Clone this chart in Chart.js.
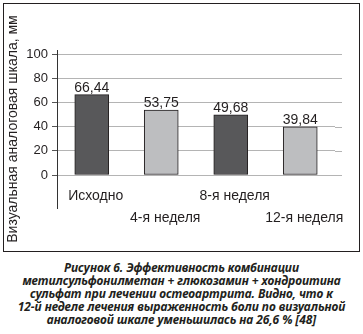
<!DOCTYPE html>
<html lang="ru">
  <head>
    <meta charset="utf-8" />
    <title>Рисунок 6</title>
    <style>
      body {
        margin: 0;
        width: 363px;
        height: 334px;
        background: #fff;
        position: relative;
        overflow: hidden;
      }
      .chart-box {
        position: absolute;
        left: 3px;
        top: 3px;
        width: 355px;
        height: 247px;
        border: 1px solid #231f20;
      }
      .caption {
        position: absolute;
        left: 0;
        top: 261px;
        width: 363px;
        text-align: center;
        font-family: "Noto Sans", sans-serif;
        font-weight: bold;
        font-style: italic;
        font-size: 12px;
        line-height: 13px;
        letter-spacing: -0.08px;
        color: #231f20;
      }
    </style>
  </head>
  <body>
    <div class="chart-box">
      <canvas id="vas-chart" width="355" height="247"></canvas>
    </div>
    <div class="caption">
      Рисунок 6. Эффективность комбинации<br />
      метилсульфонилметан + глюкозамин + хондроитина<br />
      сульфат при лечении остеоартрита. Видно, что к<br />
      12-й неделе лечения выраженность боли по визуальной<br />
      аналоговой шкале уменьшилась на 26,6 % [48]
    </div>

    <script src="https://cdn.jsdelivr.net/npm/chart.js@4/dist/chart.umd.min.js"></script>
    <script>
      // points of the study
      const periods = [["Исходно", ""], ["", "4-я неделя"], ["8-я неделя", ""], ["", "12-я неделя"]];
      // mean VAS pain score, mm
      const vasScores = [66.44, 53.75, 49.68, 39.84];
      const barColors = ["#58585a", "#bdbec0", "#58585a", "#bdbec0"];
      const yTicks = [0, 20, 40, 60, 80, 100];
      const yTitle = "Визуальная аналоговая шкала, мм";

      const textColor = "#231f20";
      const font = "Liberation Sans, Arial, sans-serif";

      // value above every bar, axis line and rotated title
      const extras = {
        id: "extras",
        afterDatasetsDraw(chart) {
          const ctx = chart.ctx;
          const y = chart.scales.y;
          const area = chart.chartArea;
          ctx.save();

          // gridlines run a bit past the last category
          ctx.strokeStyle = "#b4b4b4";
          ctx.lineWidth = 1;
          yTicks.forEach((t) => {
            const py = Math.round(y.getPixelForValue(t)) + 0.5;
            ctx.beginPath();
            ctx.moveTo(area.right, py);
            ctx.lineTo(area.right + 7, py);
            ctx.stroke();
          });

          // vertical axis
          ctx.strokeStyle = "#333";
          ctx.beginPath();
          ctx.moveTo(area.left + 0.5, area.top - 4);
          ctx.lineTo(area.left + 0.5, area.bottom + 34);
          ctx.stroke();

          // value labels
          ctx.fillStyle = textColor;
          ctx.font = "14px " + font;
          ctx.textAlign = "center";
          ctx.textBaseline = "alphabetic";
          chart.getDatasetMeta(0).data.forEach((bar, i) => {
            ctx.fillText(vasScores[i].toFixed(2).replace(".", ","), bar.x, bar.y - 3);
          });

          // axis title
          ctx.translate(9, 125);
          ctx.rotate(-Math.PI / 2);
          ctx.textBaseline = "middle";
          ctx.fillText(yTitle, 0, 0);
          ctx.restore();
        },
      };

      new Chart(document.getElementById("vas-chart"), {
        type: "bar",
        data: {
          labels: periods,
          datasets: [
            {
              data: vasScores,
              backgroundColor: barColors,
              borderColor: "#231f20",
              borderWidth: 1,
              borderSkipped: false,
              barThickness: 34,
            },
          ],
        },
        options: {
          responsive: false,
          animation: false,
          devicePixelRatio: 1,
          layout: { padding: { left: 0, top: 50, right: 24, bottom: 0 } },
          plugins: {
            legend: { display: false },
            tooltip: { enabled: false },
          },
          scales: {
            x: {
              grid: { display: false },
              border: { display: false },
              ticks: {
                color: textColor,
                font: { family: font, size: 14, lineHeight: 22 / 14 },
                padding: 2,
                labelOffset: 4,
                maxRotation: 0,
                autoSkip: false,
              },
              afterFit(scale) {
                scale.height = 76;
              },
            },
            y: {
              min: 0,
              max: 100,
              afterBuildTicks(scale) {
                scale.ticks = yTicks.map((v) => ({ value: v }));
              },
              grid: {
                color: "#b4b4b4",
                tickColor: "#555",
                tickLength: 5,
                lineWidth: 1,
              },
              border: { display: false },
              ticks: {
                color: textColor,
                font: { family: font, size: 13 },
                padding: 4,
              },
              afterFit(scale) {
                scale.width = 53;
              },
            },
          },
        },
        plugins: [extras],
      });
    </script>
  </body>
</html>
